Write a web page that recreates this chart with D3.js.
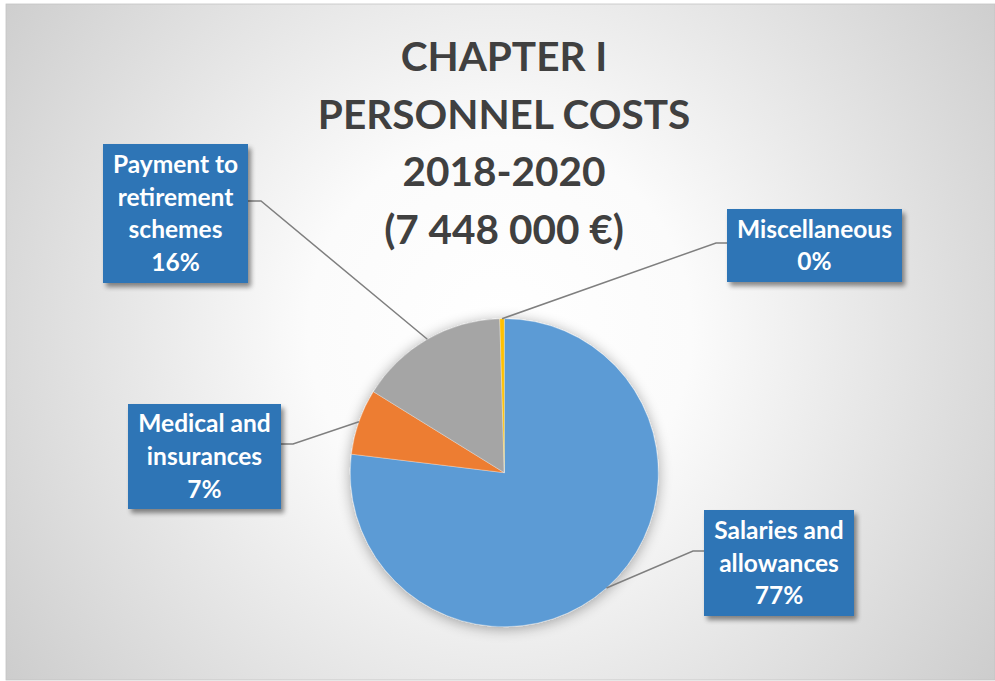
<!DOCTYPE html>
<html>
<head>
<meta charset="utf-8">
<script src="https://cdn.jsdelivr.net/npm/d3@7"></script>
<style>
  html, body { margin: 0; padding: 0; background: #ffffff; }
  svg { display: block; }
</style>
</head>
<body>
<svg id="chart" width="995" height="681"></svg>
<script>
// ---- Data ----
const categories = ["Salaries and allowances", "Medical and insurances", "Payment to retirement schemes", "Miscellaneous"];
const values = [5729000, 514000, 1170000, 35000];
const labelLines = [["Salaries and", "allowances"], ["Medical and", "insurances"], ["Payment to", "retirement", "schemes"], ["Miscellaneous"]];
const titleLines = ["CHAPTER I", "PERSONNEL COSTS", "2018-2020", "(7 448 000 €)"];
const colors = ["#5B9BD5", "#ED7D31", "#A5A5A5", "#FFC000"];

// ---- Layout (positions of label boxes) ----
const boxes = [
  { x: 704, y: 510, w: 150, h: 106, elbowX: 693, elbowY: 551, side: "left" },
  { x: 128, y: 404, w: 153, h: 105, elbowX: 293, elbowY: 444, side: "right" },
  { x: 103, y: 144, w: 145, h: 139, elbowX: 261, elbowY: 201, side: "right" },
  { x: 727, y: 209, w: 175, h: 73, elbowX: 716, elbowY: 243, side: "left" }
];

const W = 995, H = 681;
const cx = 504.3, cy = 472.7, R = 154;

const svg = d3.select("#chart");
const defs = svg.append("defs");

const grad = defs.append("radialGradient")
  .attr("id", "bg").attr("gradientUnits", "userSpaceOnUse")
  .attr("cx", 500).attr("cy", 330).attr("r", 640);
grad.append("stop").attr("offset", "0").attr("stop-color", "#ffffff");
grad.append("stop").attr("offset", "0.3").attr("stop-color", "#fbfbfb");
grad.append("stop").attr("offset", "1").attr("stop-color", "#c9c9c9");

const pieShadow = defs.append("filter").attr("id", "pieShadow")
  .attr("x", "-30%").attr("y", "-30%").attr("width", "160%").attr("height", "160%");
pieShadow.append("feGaussianBlur").attr("in", "SourceAlpha").attr("stdDeviation", 7).attr("result", "b");
pieShadow.append("feOffset").attr("in", "b").attr("dx", 0).attr("dy", 2).attr("result", "o");
pieShadow.append("feComponentTransfer").attr("in", "o").attr("result", "s")
  .append("feFuncA").attr("type", "linear").attr("slope", 0.35);
const m1 = pieShadow.append("feMerge");
m1.append("feMergeNode").attr("in", "s");
m1.append("feMergeNode").attr("in", "SourceGraphic");

const boxShadow = defs.append("filter").attr("id", "boxShadow")
  .attr("x", "-20%").attr("y", "-20%").attr("width", "140%").attr("height", "140%");
boxShadow.append("feGaussianBlur").attr("in", "SourceAlpha").attr("stdDeviation", 2.5).attr("result", "b");
boxShadow.append("feOffset").attr("in", "b").attr("dx", 3).attr("dy", 4).attr("result", "o");
boxShadow.append("feComponentTransfer").attr("in", "o").attr("result", "s")
  .append("feFuncA").attr("type", "linear").attr("slope", 0.45);
const m2 = boxShadow.append("feMerge");
m2.append("feMergeNode").attr("in", "s");
m2.append("feMergeNode").attr("in", "SourceGraphic");

// background chart area
svg.append("rect").attr("x", 6).attr("y", 4).attr("width", W - 6).attr("height", H - 5)
  .attr("fill", "url(#bg)").attr("stroke", "#c4c4c4").attr("stroke-width", 0.8);

// title
const title = svg.append("text")
  .attr("text-anchor", "middle")
  .attr("font-family", "Lato, 'Open Sans', sans-serif")
  .attr("font-weight", "bold")
  .attr("font-size", 40.5)
  .attr("fill", "#404040");
titleLines.forEach((t, i) => {
  title.append("tspan").attr("x", 504).attr("y", 71 + i * 57.5).text(t);
});

// pie
const total = d3.sum(values);
const pie = d3.pie().sort(null).value(d => d)(values);
const arc = d3.arc().innerRadius(0).outerRadius(R);

const g = svg.append("g").attr("transform", `translate(${cx},${cy})`);
g.append("g").attr("filter", "url(#pieShadow)")
  .selectAll("path").data(pie).join("path")
  .attr("d", arc)
  .attr("fill", (d, i) => colors[i])
  .attr("stroke", "#ffffff").attr("stroke-width", 0.3);

// leader lines
pie.forEach((d, i) => {
  const b = boxes[i];
  const a = (d.startAngle + d.endAngle) / 2;
  const px = cx + R * Math.sin(a), py = cy - R * Math.cos(a);
  const edgeX = b.side === "left" ? b.x : b.x + b.w;
  svg.append("polyline")
    .attr("points", `${edgeX},${b.elbowY} ${b.elbowX},${b.elbowY} ${px},${py}`)
    .attr("fill", "none").attr("stroke", "#7f7f7f").attr("stroke-width", 1.5);
});

// label boxes
const fmtPct = v => Math.round(v / total * 100) + "%";
boxes.forEach((b, i) => {
  const gg = svg.append("g");
  gg.append("rect").attr("x", b.x).attr("y", b.y).attr("width", b.w).attr("height", b.h)
    .attr("fill", "#2E75B6").attr("filter", "url(#boxShadow)");
  const lines = labelLines[i].concat([fmtPct(values[i])]);
  const lh = 32.7;
  const cyb = b.y + b.h / 2;
  const firstBase = cyb - (lines.length - 1) * lh / 2 + 8.5;
  const t = gg.append("text").attr("text-anchor", "middle")
    .attr("font-family", "Lato, 'Open Sans', sans-serif")
    .attr("font-weight", "bold").attr("font-size", 24.5).attr("fill", "#ffffff");
  lines.forEach((l, j) => {
    t.append("tspan").attr("x", b.x + b.w / 2).attr("y", firstBase + j * lh).text(l);
  });
});
</script>
</body>
</html>
